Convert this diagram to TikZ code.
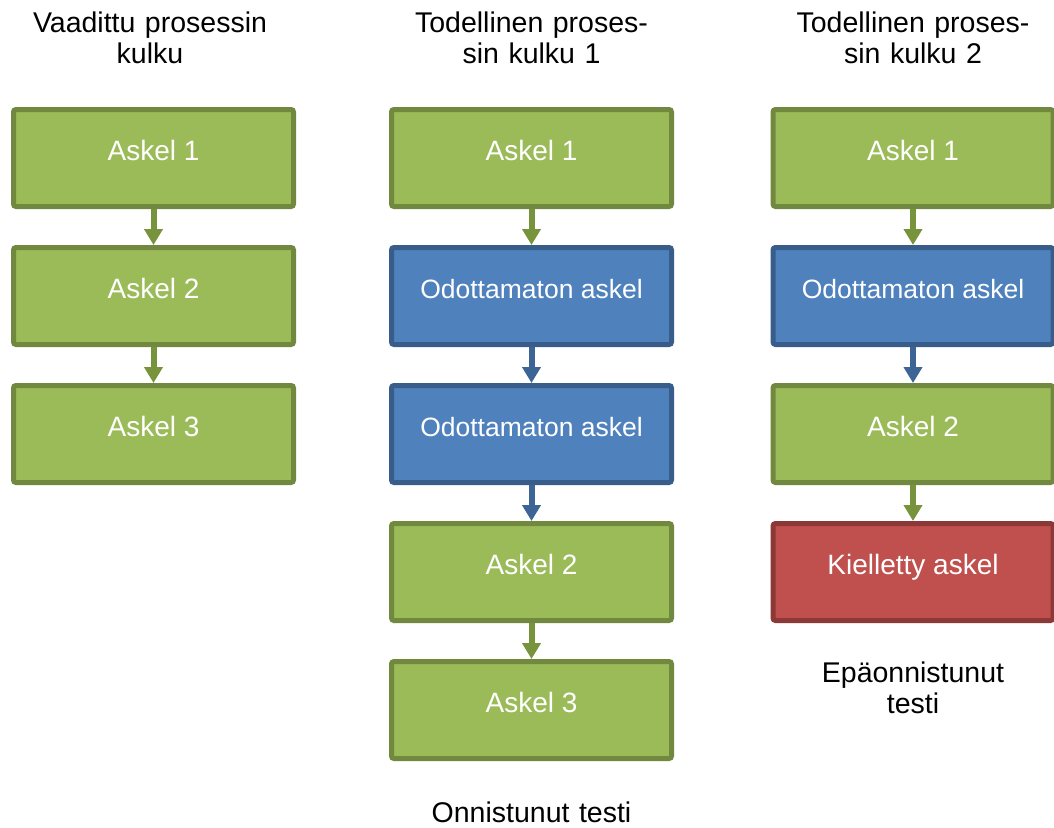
\documentclass[tikz,border=0pt]{standalone}
\usepackage{fontspec}
\setmainfont{Liberation Sans}
\usetikzlibrary{arrows.meta}
\definecolor{gfill}{HTML}{9BBB59}
\definecolor{gline}{HTML}{71893F}
\definecolor{garr}{HTML}{77933C}
\definecolor{bfill}{HTML}{4F81BD}
\definecolor{bline}{HTML}{385D8A}
\definecolor{barr}{HTML}{3C6494}
\definecolor{rfill}{HTML}{C0504D}
\definecolor{rline}{HTML}{8C3836}
\begin{document}
\begin{tikzpicture}[x=1pt,y=-1pt,
  box/.style={draw, line width=5pt, rounded corners=2.5pt, minimum width=280pt,
    minimum height=97pt, text=white, font=\fontsize{28}{32}\selectfont,
    text height=20pt, text depth=16pt, inner sep=0pt},
  gbox/.style={box, fill=gfill, draw=gline},
  bbox/.style={box, fill=bfill, draw=bline, font=\fontsize{26.5}{32}\selectfont},
  rbox/.style={box, fill=rfill, draw=rline},
  arr/.style={line width=6pt, -{Triangle[width=18pt,length=16pt]}},
  garrow/.style={arr, draw=garr, fill=garr},
  barrow/.style={arr, draw=barr, fill=barr},
  title/.style={text width=320pt, align=center, inner sep=0pt,
    font=\fontsize{28.5}{31.5}\selectfont, anchor=base}
]
\useasboundingbox (0,0) rectangle (1054,827);

% titles
\node[title] (t1) at (150,32) {Vaadittu prosessin\\kulku};
\node[title] (t2) at (531.5,32) {Todellinen proses-\\sin kulku 1};
\node[title] (t3) at (913,32) {Todellinen proses-\\sin kulku 2};

% column 1
\node[gbox] (c1a) at (153.5,158) {Askel 1};
\node[gbox] (c1b) at (153.5,296) {Askel 2};
\node[gbox] (c1c) at (153.5,434) {Askel 3};

% column 2
\node[gbox] (c2a) at (531.5,158) {Askel 1};
\node[bbox] (c2b) at (531.5,296) {Odottamaton askel};
\node[bbox] (c2c) at (531.5,434) {Odottamaton askel};
\node[gbox] (c2d) at (531.5,572) {Askel 2};
\node[gbox] (c2e) at (531.5,710) {Askel 3};

% column 3
\node[gbox] (c3a) at (913,158) {Askel 1};
\node[bbox] (c3b) at (913,296) {Odottamaton askel};
\node[gbox] (c3c) at (913,434) {Askel 2};
\node[rbox] (c3d) at (913,572) {Kielletty askel};

% arrows
\draw[garrow] (c1a.south) -- (c1b.north);
\draw[garrow] (c1b.south) -- (c1c.north);
\draw[garrow] (c2a.south) -- (c2b.north);
\draw[barrow] (c2b.south) -- (c2c.north);
\draw[barrow] (c2c.south) -- (c2d.north);
\draw[garrow] (c2d.south) -- (c2e.north);
\draw[garrow] (c3a.south) -- (c3b.north);
\draw[barrow] (c3b.south) -- (c3c.north);
\draw[garrow] (c3c.south) -- (c3d.north);

% results
\node[title] (r1) at (531.5,822) {Onnistunut testi};
\node[title] (r2) at (913,682) {Epäonnistunut\\testi};
\end{tikzpicture}
\end{document}
